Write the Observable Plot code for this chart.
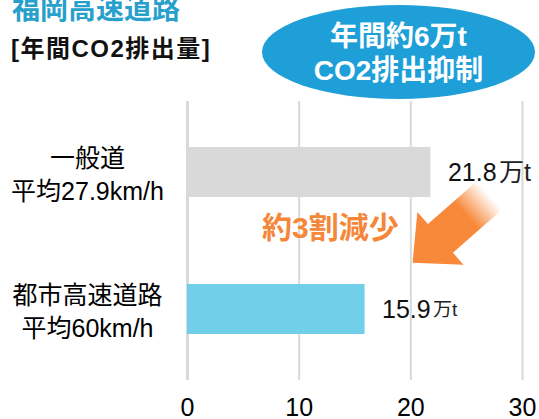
<!DOCTYPE html>
<html>
<head>
<meta charset="utf-8">
<script src="https://cdn.jsdelivr.net/npm/d3@7"></script>
<script src="https://cdn.jsdelivr.net/npm/@observablehq/plot@0.6"></script>
<style>
  html, body { margin: 0; padding: 0; background: #fff; }
  #wrap { position: relative; width: 539px; height: 419px; overflow: hidden;
          font-family: "Liberation Sans", "Noto Sans CJK JP", sans-serif; }
  #head { position: relative; height: 62px; }
  .title { position: absolute; left: 12px; top: -4px; font-size: 28px; line-height: 1; font-weight: bold; color: #27a0cb; white-space: nowrap; }
  .sub { position: absolute; left: 11px; top: 37px; font-size: 24px; line-height: 1; font-weight: bold; color: #111; white-space: nowrap; letter-spacing: 1.5px; }
  .bubble { position: absolute; left: 262px; top: 5px; width: 273px; height: 94px; border-radius: 50%;
            background: #1e9fd7; color: #fff; font-size: 28px; font-weight: bold; line-height: 34px;
            display: flex; align-items: center; justify-content: center; text-align: center;
            box-sizing: border-box; padding-top: 4px; z-index: 2; }
  .note { position: absolute; left: 262px; top: 213px; font-size: 30px; line-height: 1; font-weight: bold; color: #f4873a; white-space: nowrap; z-index: 2; }
  #chart svg { display: block; }
</style>
</head>
<body>
<div id="wrap">
  <div id="head">
    <div class="title">福岡高速道路</div>
    <div class="sub">[年間CO2排出量]</div>
  </div>
  <div id="chart"></div>
  <div class="bubble">年間約6万t<br>CO2排出抑制</div>
  <div class="note">約3割減少</div>
</div>
<script>
// ---- data ----
const categories = ["一般道", "都市高速道路"];
const speeds = ["平均27.9km/h", "平均60km/h"];
const emissions = [21.8, 15.9];
const unitLabel = "万t";
const xTicks = [0, 10, 20, 30];
const barColors = ["#d9d9d9", "#72cfe9"];

const data = categories.map((c, i) => ({ category: c, value: emissions[i] }));

const chart = Plot.plot({
  width: 539,
  height: 357,
  marginTop: 39,
  marginBottom: 39,
  marginLeft: 187,
  marginRight: 17,
  style: { fontFamily: '"Liberation Sans", "Noto Sans CJK JP", sans-serif', fontSize: "25px", color: "#000", background: "transparent", overflow: "visible" },
  x: { domain: [0, 30], label: null },
  y: { domain: categories, paddingInner: 0.636, paddingOuter: 0.3325, label: null },
  color: { domain: categories, range: barColors },
  marks: [
    Plot.ruleX(xTicks, { x: d => d, stroke: "#d9d9d9", strokeWidth: d => (d === 0 ? 3 : 2) }),
    Plot.barX(data, { x: "value", y: "category", fill: "category" }),
    Plot.axisX({ ticks: xTicks, tickSize: 0, tickPadding: 18, fontSize: 25, label: null }),
    Plot.axisY({
      tickSize: 0, tickPadding: 0, textAnchor: "middle", dx: -100, fontSize: 25, lineHeight: 1.32, label: null,
      tickFormat: c => c + "\n" + speeds[categories.indexOf(c)]
    }),
    Plot.text(data, { x: "value", y: "category", text: d => d.value.toFixed(1), textAnchor: "start", dx: 17, fontSize: 25, fill: "#111" }),
    Plot.text(data, { x: "value", y: "category", text: () => unitLabel, textAnchor: "start", dx: 68,
      fontSize: (d, i) => (i === 0 ? 25 : 19), fill: "#222" })
  ]
});
document.getElementById("chart").appendChild(chart);

// ---- block arrow annotation, positioned through the chart's scales ----
(function () {
  const xs = chart.scale("x"), ys = chart.scale("y");
  const center = c => ys.apply(c) + ys.bandwidth / 2;
  const y0 = center(categories[0]), y1 = center(categories[1]);
  const tip = [xs.apply(20.2), y0 + 0.662 * (y1 - y0)];
  const tail = [xs.apply(27.1), y0 + 0.17 * (y1 - y0)];
  const dx = tail[0] - tip[0], dy = tail[1] - tip[1];
  const len = Math.hypot(dx, dy);
  const u = [dx / len, dy / len], n = [-u[1], u[0]];
  const hl = 37, hw = 70, sw = 38;
  const P = (base, a, b) => [base[0] + u[0] * a + n[0] * b, base[1] + u[1] * a + n[1] * b];
  const pts = [
    tip,
    P(tip, hl, hw / 2), P(tip, hl, sw / 2),
    P(tail, 0, sw / 2), P(tail, 0, -sw / 2),
    P(tip, hl, -sw / 2), P(tip, hl, -hw / 2)
  ];
  const svg = d3.select(chart);
  const grad = svg.append("defs").append("linearGradient")
    .attr("id", "arrowGrad").attr("gradientUnits", "userSpaceOnUse")
    .attr("x1", tip[0]).attr("y1", tip[1]).attr("x2", tail[0]).attr("y2", tail[1]);
  grad.append("stop").attr("offset", 0).attr("stop-color", "#f8883a").attr("stop-opacity", 1);
  grad.append("stop").attr("offset", 0.7).attr("stop-color", "#f8883a").attr("stop-opacity", 1);
  grad.append("stop").attr("offset", 1).attr("stop-color", "#f8883a").attr("stop-opacity", 0);
  svg.append("path")
    .attr("d", "M" + pts.map(p => p.join(",")).join("L") + "Z")
    .attr("fill", "url(#arrowGrad)");
})();
</script>
</body>
</html>
